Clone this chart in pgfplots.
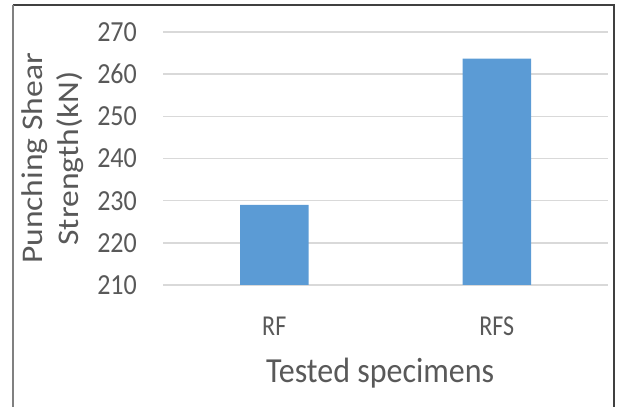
\documentclass[border=0pt]{standalone}
\usepackage{pgfplots}
\pgfplotsset{compat=1.18}
\usepackage{fontspec}
\setmainfont{Carlito}
\definecolor{barblue}{HTML}{5B9BD5}
\definecolor{txtgray}{HTML}{595959}
\definecolor{gridgray}{HTML}{D9D9D9}
\begin{document}
\begin{tikzpicture}[x=1pt,y=1pt]
\useasboundingbox (0,0) rectangle (619,407);
\begin{axis}[
  at={(163pt,122pt)}, anchor=south west,
  scale only axis, width=445pt, height=253pt,
  xmin=-0.5, xmax=1.5, ymin=210, ymax=270,
  ytick={210,220,...,270},
  xtick={0,1}, xticklabels={RF,RFS},
  axis line style={draw=none},
  major tick length=0pt,
  ymajorgrids, grid style={gridgray, line width=1.4pt},
  /pgf/number format/assume math mode=true,
  yticklabel style={anchor=east, inner sep=0pt, xshift=-26pt, text=txtgray,
    font=\fontsize{26}{30}\selectfont, yscale=1.12},
  xticklabel style={anchor=base, inner sep=0pt, yshift=-50pt, text=txtgray,
    font=\fontsize{24}{28}\selectfont, yscale=1.2},
  xlabel={Tested specimens},
  xlabel style={at={(axis description cs:0.488,0)}, anchor=base, inner sep=0pt,
    yshift=-97pt, text=txtgray, font=\fontsize{32}{38}\selectfont, yscale=1.1},
  ylabel={Punching Shear\\Strength(kN)},
  ylabel style={at={(axis description cs:-0.2485,0.5)}, anchor=center,
    align=center, inner sep=0pt, text=txtgray,
    font=\fontsize{30}{36.3}\selectfont, xscale=1.12},
  bar width=68.5pt,
]
\addplot[ybar, fill=barblue, draw=none] coordinates {(0,229) (1,263.7)};
\end{axis}
\draw[line width=1.5pt, color=black!75] (12.7,402) -- (614,402) -- (614,-3);
\draw[line width=2pt, color=black!50] (12.7,402) -- (12.7,-3);
\end{tikzpicture}
\end{document}
